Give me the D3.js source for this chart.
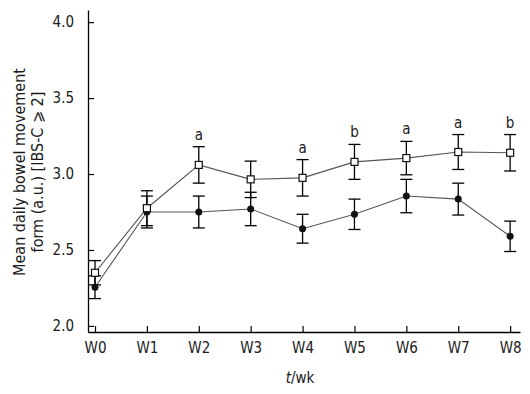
<!DOCTYPE html>
<html>
<head>
<meta charset="utf-8">
<script src="https://cdn.jsdelivr.net/npm/d3@7/dist/d3.min.js"></script>
<style>
  body { margin: 0; background: #fff; }
  svg text { font-family: "DejaVu Sans Condensed", "DejaVu Sans", sans-serif; fill: #1a1a1a; }
</style>
</head>
<body>
<svg id="chart" width="530" height="394"></svg>
<script>
const weeks = ["W0", "W1", "W2", "W3", "W4", "W5", "W6", "W7", "W8"];
// open squares
const squareMean = [2.35, 2.775, 3.06, 2.965, 2.975, 3.08, 3.105, 3.145, 3.14];
const squareErr  = [0.08, 0.115, 0.12, 0.12, 0.12, 0.115, 0.11, 0.115, 0.12];
// filled circles
const circleMean = [2.255, 2.75, 2.75, 2.77, 2.64, 2.735, 2.855, 2.835, 2.59];
const circleErr  = [0.075, 0.105, 0.105, 0.11, 0.095, 0.1, 0.11, 0.105, 0.1];
// significance marks above the square series
const sigMarks = ["", "", "a", "", "a", "b", "a", "a", "b"];
const yTicks = [2.0, 2.5, 3.0, 3.5, 4.0];

const svg = d3.select("#chart");

const x = d3.scaleLinear().domain([-0.135, 8.19]).range([88, 520]);
const y = d3.scaleLinear().domain([1.96, 4.08]).range([332, 10]);

// axes, ticks pointing inward
const xAxis = d3.axisBottom(x)
  .tickValues(d3.range(weeks.length))
  .tickFormat(i => weeks[i])
  .tickSizeInner(-6)
  .tickSizeOuter(0)
  .tickPadding(10);

const yAxis = d3.axisLeft(y)
  .tickValues(yTicks)
  .tickFormat(d3.format(".1f"))
  .tickSizeInner(-6)
  .tickSizeOuter(0)
  .tickPadding(14);

const gx = svg.append("g").attr("transform", "translate(0,332)").call(xAxis);
const gy = svg.append("g").attr("transform", "translate(88,0)").call(yAxis);

[gx, gy].forEach(g => {
  g.select(".domain").attr("stroke", "#000").attr("stroke-width", 1.3);
  g.selectAll(".tick line").attr("stroke", "#000").attr("stroke-width", 1.2);
  g.selectAll(".tick text").attr("font-size", 15).attr("fill", "#1a1a1a")
    .attr("font-family", "'DejaVu Sans Condensed', 'DejaVu Sans', sans-serif");
});

// axis titles
svg.append("text")
  .attr("x", 300).attr("y", 383)
  .attr("text-anchor", "middle")
  .attr("font-size", 15)
  .html('<tspan font-style="italic">t</tspan>/wk');

const yTitle = svg.append("text")
  .attr("transform", "translate(0,172) rotate(-90)")
  .attr("text-anchor", "middle")
  .attr("font-size", 16);
yTitle.append("tspan").attr("x", 0).attr("y", 25).text("Mean daily bowel movement");
yTitle.append("tspan").attr("x", 0).attr("y", 43).text("form (a.u.) [IBS-C \u2A7E 2]");

const line = d3.line()
  .x((d, i) => x(i))
  .y(d => y(d));

function drawSeries(means, errs) {
  svg.append("path")
    .datum(means)
    .attr("fill", "none")
    .attr("stroke", "#555")
    .attr("stroke-width", 1.1)
    .attr("d", line);

  const eb = svg.append("g").attr("stroke", "#000").attr("stroke-width", 1.3);
  means.forEach((m, i) => {
    const cx = x(i);
    eb.append("line").attr("x1", cx).attr("x2", cx).attr("y1", y(m - errs[i])).attr("y2", y(m + errs[i]));
    eb.append("line").attr("x1", cx - 6).attr("x2", cx + 6).attr("y1", y(m + errs[i])).attr("y2", y(m + errs[i]));
    eb.append("line").attr("x1", cx - 6).attr("x2", cx + 6).attr("y1", y(m - errs[i])).attr("y2", y(m - errs[i]));
  });
}

drawSeries(circleMean, circleErr);
drawSeries(squareMean, squareErr);

svg.append("g").selectAll("circle")
  .data(circleMean)
  .enter()
  .append("circle")
  .attr("cx", (d, i) => x(i))
  .attr("cy", d => y(d))
  .attr("r", 3.5)
  .attr("fill", "#111");

svg.append("g").selectAll("rect")
  .data(squareMean)
  .enter()
  .append("rect")
  .attr("x", (d, i) => x(i) - 3.5)
  .attr("y", d => y(d) - 3.5)
  .attr("width", 7)
  .attr("height", 7)
  .attr("fill", "#fff")
  .attr("stroke", "#111")
  .attr("stroke-width", 1.2);

// significance letters
const marks = sigMarks.map((m, i) => ({ m, i })).filter(d => d.m !== "");
svg.append("g").selectAll("text")
  .data(marks)
  .enter()
  .append("text")
  .attr("x", d => x(d.i))
  .attr("y", d => y(squareMean[d.i] + squareErr[d.i]) - 7)
  .attr("text-anchor", "middle")
  .attr("font-size", 15)
  .text(d => d.m);
</script>
</body>
</html>
